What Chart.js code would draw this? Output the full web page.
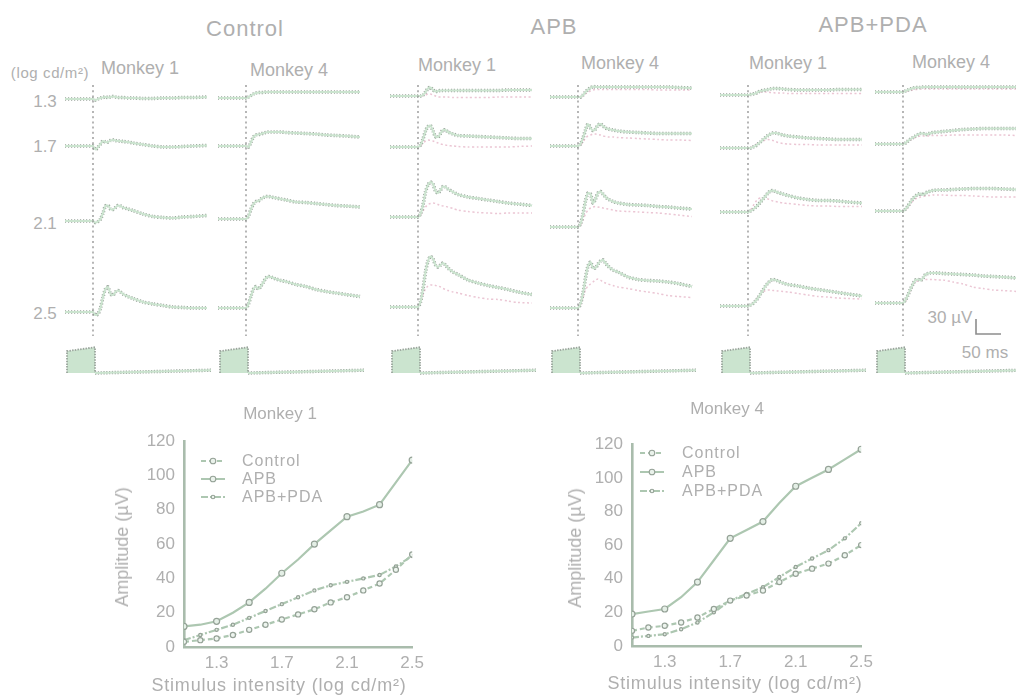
<!DOCTYPE html>
<html><head><meta charset="utf-8">
<script src="https://cdn.jsdelivr.net/npm/chart.js@4.4.1/dist/chart.umd.min.js"></script>
<style>
html,body{margin:0;padding:0;background:#fff}
body{width:1016px;height:696px;overflow:hidden;position:relative;font-family:"Liberation Sans",Arial,sans-serif;color:#afafaf}
.lbl{position:absolute;white-space:nowrap;transform:translate(-50%,-50%);line-height:1}
.lft{position:absolute;white-space:nowrap;transform:translate(0,-50%);line-height:1}
canvas{position:absolute}
svg{position:absolute}
</style></head><body>
<script>
// ---------------- DATA ----------------
const TRACE_TIMES = [-56,-30,-5,0,5,10,15,20,25,30,35,40,45,50,55,60,70,80,100,120,140,160,180,200,228]; // ms
const INTENSITIES = ['1.3','1.7','2.1','2.5'];

// ERG traces (µV above baseline), rows = intensities 1.3, 1.7, 2.1, 2.5
const controlM1 = [
 [0,0,0,0,-2,0,2,3,4,3,4,5,4,3,3,3,2,2,1,1,2,2,3,3,4],
 [0,0,0,0,-7,-2,4,10,8,8,11,12,11,10,10,9,8,6,3,0,-2,-2,-1,0,1],
 [0,0,0,0,-3,-1,4,16,30,31,24,23,27,31,30,27,24,21,14,9,7,6,8,9,11],
 [0,0,0,0,-6,-4,8,30,46,50,36,34,40,43,40,36,31,27,20,16,13,10,9,8,8]
];
const controlM4 = [
 [0,0,0,0,2,5,8,10,11,11,11,12,12,12,12,12,12,12,12,12,12,12,12,12,12],
 [0,0,0,0,-2,8,18,22,23,24,26,27,28,28,28,28,28,27,26,25,24,22,21,20,18],
 [0,0,0,0,6,20,30,35,36,40,43,45,45,44,43,42,40,38,34,33,31,29,27,26,24],
 [0,0,0,0,8,24,38,43,38,44,52,60,63,62,60,58,55,53,47,43,37,33,30,27,23]
];
const apbM1 = [
 [0,0,0,0,0,2,8,15,17,12,9,10,11,11,11,11,11,11,11,11,11,11,12,12,12],
 [0,0,0,0,4,16,32,41,43,32,21,20,27,34,34,30,26,23,22,21,20,19,18,17,17],
 [0,0,0,0,6,24,50,64,70,66,52,48,54,61,60,56,50,45,40,37,34,31,28,26,23],
 [0,0,0,0,10,36,70,92,101,96,84,80,84,88,84,78,70,65,54,48,43,39,35,30,25]
];
const apbM1Overlay = [
 [0,0,0,0,0,0,2,4,4,2,0,-2,-2,-2,-2,-2,-3,-3,-3,-3,-3,-2,-2,-2,-2],
 [0,0,0,0,2,8,12,14,13,12,10,8,6,5,4,3,2,1,0,0,0,0,0,1,2],
 [0,0,0,0,4,12,20,25,27,28,27,25,23,22,21,20,17,14,11,9,8,7,8,8,8],
 [0,0,0,0,8,24,36,42,44,44,43,42,40,37,35,33,30,28,23,19,16,15,12,9,8]
];
const apbM4 = [
 [0,0,0,0,0,4,10,15,18,21,20,20,20,20,20,20,20,20,20,20,20,20,20,19,18],
 [0,0,0,0,4,16,32,44,36,31,34,42,44,40,36,34,32,30,28,27,26,25,25,25,25],
 [0,0,0,0,6,26,52,68,66,48,56,68,71,66,60,56,51,48,45,44,43,41,40,38,36],
 [0,0,0,0,8,30,60,84,92,80,80,88,94,96,90,84,76,72,62,57,55,54,52,49,43]
];
const apbM4Overlay = [
 [0,0,0,0,0,2,6,10,12,14,15,15,15,15,15,15,15,15,15,15,15,14,14,14,14],
 [0,0,0,0,2,8,16,20,22,24,24,23,22,20,19,18,18,17,16,15,14,13,12,12,11],
 [0,0,0,0,4,14,26,34,38,40,41,40,39,38,37,36,34,32,31,30,29,28,26,24,21],
 [0,0,0,0,6,20,36,44,48,52,56,58,56,52,50,48,45,42,39,35,32,29,25,23,21]
];
const pdaM1 = [
 [0,0,0,0,1,2,3,6,8,9,10,11,12,13,13,13,12,11,10,10,10,10,11,11,11],
 [0,0,0,0,0,2,4,8,12,17,21,25,28,30,30,29,26,24,22,20,19,18,17,17,17],
 [0,0,0,0,2,5,9,14,20,26,32,38,42,43,41,39,36,33,28,25,23,23,22,20,18],
 [0,0,0,0,2,5,10,16,24,32,40,46,51,53,52,50,46,43,40,36,33,30,27,24,20]
];
const pdaM1Overlay = [
 [0,0,0,0,1,2,3,5,6,6,6,6,5,5,4,4,4,3,3,3,3,3,3,3,3],
 [0,0,0,0,1,3,6,9,12,14,16,17,16,15,13,11,9,8,7,7,6,6,6,6,6],
 [0,0,0,0,4,12,20,26,28,28,27,26,24,22,21,20,18,17,15,13,12,12,11,11,11],
 [0,0,0,0,2,6,12,18,24,28,31,32,32,31,31,30,29,28,25,22,19,18,16,15,14]
];
const pdaM4 = [
 [0,0,0,0,2,4,6,8,9,9,9,10,10,10,10,10,10,10,10,10,10,10,10,10,10],
 [0,0,0,0,2,6,10,13,16,19,21,21,19,20,22,23,24,25,27,29,30,31,31,31,31],
 [0,0,0,0,4,10,18,25,30,33,35,32,36,38,40,41,42,42,43,44,45,45,45,44,43],
 [0,0,0,0,6,16,28,38,46,47,45,50,57,59,60,60,60,59,58,57,56,54,53,52,50]
];
const pdaM4Overlay = [
 [0,0,0,0,1,2,3,4,5,5,6,6,6,6,6,6,6,6,6,6,6,6,6,6,6],
 [0,0,0,0,2,5,8,11,13,15,16,16,16,16,17,17,17,17,18,18,18,18,18,18,17],
 [0,0,0,0,3,8,14,20,24,26,28,29,30,31,31,32,32,32,31,31,30,29,28,28,28],
 [0,0,0,0,4,14,26,36,42,44,45,46,47,47,47,47,46,46,42,38,32,29,26,25,23]
];
// stimulus monitor trace
const stimBoxTimes = [-52,-52,4,4];
const stimBoxLevels = [0,0.95,1.12,0];
const stimLineTimes = [4,236];
const stimLineLevels = [0,0.12];
const SCALE_BAR_UV = 30, SCALE_BAR_MS = 50;

// amplitude vs intensity
const intensitySteps = [1.1,1.2,1.3,1.4,1.5,1.6,1.7,1.8,1.9,2.0,2.1,2.2,2.3,2.4,2.5];
const m1Control = [3,4,5,7,10,13,16,19,22,26,29,33,37,45,54];
const m1APB     = [12,13,15,20,26,34,43,51,60,68,76,79,83,96,109];
const m1APBPDA  = [4,7,10,13,17,21,25,29,33,36,38,40,42,47,53];
const m4Control = [9,11,12,14,17,22,27,30,33,38,43,46,49,54,60];
const m4APB     = [19,20.5,22,29,38,51,64,69,74,85,95,100,105,111,117];
const m4APBPDA  = [5,6,7,10,14,20,27,31,35,41,47,52,57,64,73];
const X_TICKS = [1.3,1.7,2.1,2.5];
const SERIES_NAMES = ['Control','APB','APB+PDA'];

// ---------------- LAYOUT / STYLE ----------------
const FONT = '"Liberation Sans", Arial, sans-serif';
const TEXT = '#afafaf';
const GREEN = '#cbe4cf', EDGE = '#9aa59c', PINK = '#ebc6d4';
const COL_TOP = 78, COL_H = 310, UV_PER_PX = 2, MS_PER_PX = 2, PRE_PX = 34, COL_W = 152;
const STIM_BASE_PX = 373, STIM_UNIT_PX = 23;
const columns = [
  {onset: 93,  baselines: [99,146,221,312], traces: controlM1, overlay: null},
  {onset: 246, baselines: [98,146,219,308], traces: controlM4, overlay: null},
  {onset: 418, baselines: [96,147,217,307], traces: apbM1, overlay: apbM1Overlay},
  {onset: 578, baselines: [97,146,227,308], traces: apbM4, overlay: apbM4Overlay},
  {onset: 748, baselines: [95,148,212,306], traces: pdaM1, overlay: pdaM1Overlay},
  {onset: 903, baselines: [92,144,211,303], traces: pdaM4, overlay: pdaM4Overlay, scaleBar: true}
];

function addText(txt, x, y, size, opts = {}) {
  const d = document.createElement('div');
  d.className = opts.left ? 'lft' : 'lbl';
  d.textContent = txt;
  d.style.left = x + 'px'; d.style.top = y + 'px';
  d.style.fontSize = size + 'px';
  if (opts.ls) d.style.letterSpacing = opts.ls + 'px';
  if (opts.rot) d.style.transform = 'translate(-50%,-50%) rotate(-90deg)';
  document.body.appendChild(d);
}
function addCanvas(left, top, w, h) {
  const c = document.createElement('canvas');
  c.width = w; c.height = h;
  c.style.left = left + 'px'; c.style.top = top + 'px';
  c.style.width = w + 'px'; c.style.height = h + 'px';
  document.body.appendChild(c);
  return c;
}

// texts
addText('Control', 245, 29, 22, {ls: 1});
addText('APB', 554, 27, 22, {ls: 1});
addText('APB+PDA', 873, 25, 22, {ls: 1});
[[140,68],[289,70],[457,65],[620,63],[788,63],[951,62]].forEach((p, i) =>
  addText(i % 2 === 0 ? 'Monkey 1' : 'Monkey 4', p[0], p[1], 18));
addText('(log cd/m²)', 50, 72, 15, {ls: 0.6});
const labelY = [101, 146, 223, 313];
INTENSITIES.forEach((s, i) => addText(s, 45, labelY[i], 17));
addText('30 µV', 950, 317, 17);
addText('50 ms', 985, 352, 17);

// trace columns
const onsetPlugin = {
  id: 'onset',
  afterDatasetsDraw(chart) {
    const x = chart.scales.x.getPixelForValue(0);
    const ctx = chart.ctx;
    ctx.save();
    ctx.strokeStyle = '#8f8f8f'; ctx.lineWidth = 1.3; ctx.setLineDash([2, 3.2]);
    ctx.beginPath(); ctx.moveTo(x, 85 - COL_TOP); ctx.lineTo(x, 336 - COL_TOP); ctx.stroke();
    ctx.restore();
  }
};
const scaleBarPlugin = {
  id: 'scalebar',
  afterDatasetsDraw(chart, args, opts) {
    if (!opts.show) return;
    const xs = chart.scales.x, ys = chart.scales.y3;
    const w = xs.getPixelForValue(SCALE_BAR_MS) - xs.getPixelForValue(0);
    const h = ys.getPixelForValue(0) - ys.getPixelForValue(SCALE_BAR_UV);
    const cx = 976 - chart.canvas.offsetLeft, cy = 334 - COL_TOP;
    const ctx = chart.ctx;
    ctx.save();
    ctx.strokeStyle = '#8d8d8d'; ctx.lineWidth = 1.6;
    ctx.beginPath(); ctx.moveTo(cx, cy - h); ctx.lineTo(cx, cy); ctx.lineTo(cx + w, cy); ctx.stroke();
    ctx.restore();
  }
};

columns.forEach(col => {
  const left = col.onset - PRE_PX;
  const cv = addCanvas(left, COL_TOP, COL_W, COL_H);
  const scales = {
    x: {type: 'linear', display: false, min: -PRE_PX * MS_PER_PX, max: (COL_W - PRE_PX) * MS_PER_PX}
  };
  const datasets = [];
  col.baselines.forEach((b, k) => {
    const max = (b - COL_TOP) * UV_PER_PX;
    scales['y' + k] = {type: 'linear', display: false, min: max - COL_H * UV_PER_PX, max};
    const pts = TRACE_TIMES.map((t, i) => ({x: t, y: col.traces[k][i]}));
    datasets.push({data: pts, yAxisID: 'y' + k, borderColor: GREEN, borderWidth: 2, order: 0, tension: 0.25, pointRadius: 0});
    datasets.push({data: pts, yAxisID: 'y' + k, borderColor: EDGE, borderWidth: 3.6, borderDash: [1.2, 1.8], order: 2, tension: 0.25, pointRadius: 0});
    if (col.overlay) {
      const op = TRACE_TIMES.map((t, i) => ({x: t, y: col.overlay[k][i]}));
      datasets.push({data: op, yAxisID: 'y' + k, borderColor: PINK, borderWidth: 1.5, borderDash: [2, 2.5], order: 3, tension: 0.25, pointRadius: 0});
    }
  });
  const smax = (STIM_BASE_PX - COL_TOP) / STIM_UNIT_PX;
  scales.ys = {type: 'linear', display: false, min: smax - COL_H / STIM_UNIT_PX, max: smax};
  datasets.push({data: stimBoxTimes.map((t, i) => ({x: t, y: stimBoxLevels[i]})), yAxisID: 'ys',
    borderColor: EDGE, borderWidth: 1.8, borderDash: [1.5, 1.2], backgroundColor: GREEN, fill: 'origin', pointRadius: 0, order: 1});
  datasets.push({data: stimLineTimes.map((t, i) => ({x: t, y: stimLineLevels[i]})), yAxisID: 'ys',
    borderColor: EDGE, borderWidth: 3.4, borderDash: [1.3, 1.5], pointRadius: 0, order: 1});
  datasets.push({data: stimLineTimes.map((t, i) => ({x: t, y: stimLineLevels[i]})), yAxisID: 'ys',
    borderColor: GREEN, borderWidth: 1.8, pointRadius: 0, order: 0});
  new Chart(cv, {
    type: 'line',
    data: {datasets},
    options: {
      responsive: false, animation: false, events: [],
      layout: {padding: 0},
      plugins: {legend: {display: false}, tooltip: {enabled: false}, scalebar: {show: !!col.scaleBar}},
      scales
    },
    plugins: [onsetPlugin, scaleBarPlugin]
  });
});

// amplitude charts
function ampChart(cfg) {
  const cv = addCanvas(cfg.left, cfg.top, cfg.w, cfg.h);
  const styles = [
    {borderDash: [5, 3], pointRadius: 2.6, pointBackgroundColor: '#eef5ef'},
    {borderDash: [], pointRadius: ctx => (ctx.dataIndex % 2 === 0 ? 3 : 0), pointBackgroundColor: '#e4efe6'},
    {borderDash: [7, 2, 2, 2], pointRadius: 1.6, pointBackgroundColor: '#dfeadf'}
  ];
  const datasets = cfg.series.map((vals, i) => Object.assign({
    label: SERIES_NAMES[i],
    data: intensitySteps.map((x, j) => ({x, y: vals[j]})),
    borderColor: '#adc7b1', borderWidth: 2.2, pointBorderColor: '#95a297', pointBorderWidth: 1.2, tension: 0
  }, styles[i]));
  const tickFont = {size: 17, family: FONT};
  new Chart(cv, {
    type: 'line',
    data: {datasets},
    options: {
      responsive: false, animation: false, events: [],
      layout: {padding: {top: 10, right: 17, left: 0, bottom: 0}},
      plugins: {legend: {display: false}, tooltip: {enabled: false}},
      scales: {
        x: {type: 'linear', min: 1.1, max: 2.5,
          afterBuildTicks: s => { s.ticks = X_TICKS.map(v => ({value: v})); },
          afterFit: s => { s.height = 49; },
          grid: {display: false, drawTicks: false},
          border: {color: '#a9bcac', width: 2.6, dash: [2, 1.4]},
          ticks: {padding: 6, color: TEXT, font: tickFont, callback: v => Number(v).toFixed(1), autoSkip: false, maxRotation: 0}},
        y: {type: 'linear', min: 0, max: 120,
          afterFit: s => { s.width = cfg.yw; },
          grid: {display: false, drawTicks: false},
          border: {color: '#a9bcac', width: 2.6, dash: [2, 1.4]},
          ticks: {stepSize: 20, padding: 9, color: TEXT, font: tickFont}}
      }
    }
  });
}
ampChart({left: 100, top: 422, w: 330, h: 274, yw: 84, series: [m1Control, m1APB, m1APBPDA]});
ampChart({left: 547, top: 425, w: 332, h: 270, yw: 85, series: [m4Control, m4APB, m4APBPDA]});

addText('Monkey 1', 280, 413, 17);
addText('Monkey 4', 727, 408, 17);
addText('Amplitude (µV)', 122, 547, 18, {rot: true});
addText('Amplitude (µV)', 575, 548, 18, {rot: true});
addText('Stimulus intensity (log cd/m²)', 279, 685, 18, {ls: 0.8});
addText('Stimulus intensity (log cd/m²)', 735, 683, 18, {ls: 0.8});

// legends
const dashes = ['5,3', '', '7,2,2,2'];
function legend(x, xText, ys) {
  SERIES_NAMES.forEach((name, i) => {
    const s = document.createElementNS('http://www.w3.org/2000/svg', 'svg');
    s.setAttribute('width', 26); s.setAttribute('height', 10);
    s.style.left = x + 'px'; s.style.top = (ys[i] - 5) + 'px';
    s.innerHTML = `<line x1="1" y1="5" x2="25" y2="5" stroke="#adc7b1" stroke-width="2" ${dashes[i] ? `stroke-dasharray="${dashes[i]}"` : ''}/>` +
      `<circle cx="13" cy="5" r="${i === 2 ? 1.8 : 2.8}" fill="#eaf2eb" stroke="#95a297" stroke-width="1.1"/>`;
    document.body.appendChild(s);
    addText(name, xText, ys[i], 16, {left: true, ls: 1});
  });
}
legend(200, 242, [461, 479, 497]);
legend(639, 682, [453, 472, 491]);
</script>
</body></html>
